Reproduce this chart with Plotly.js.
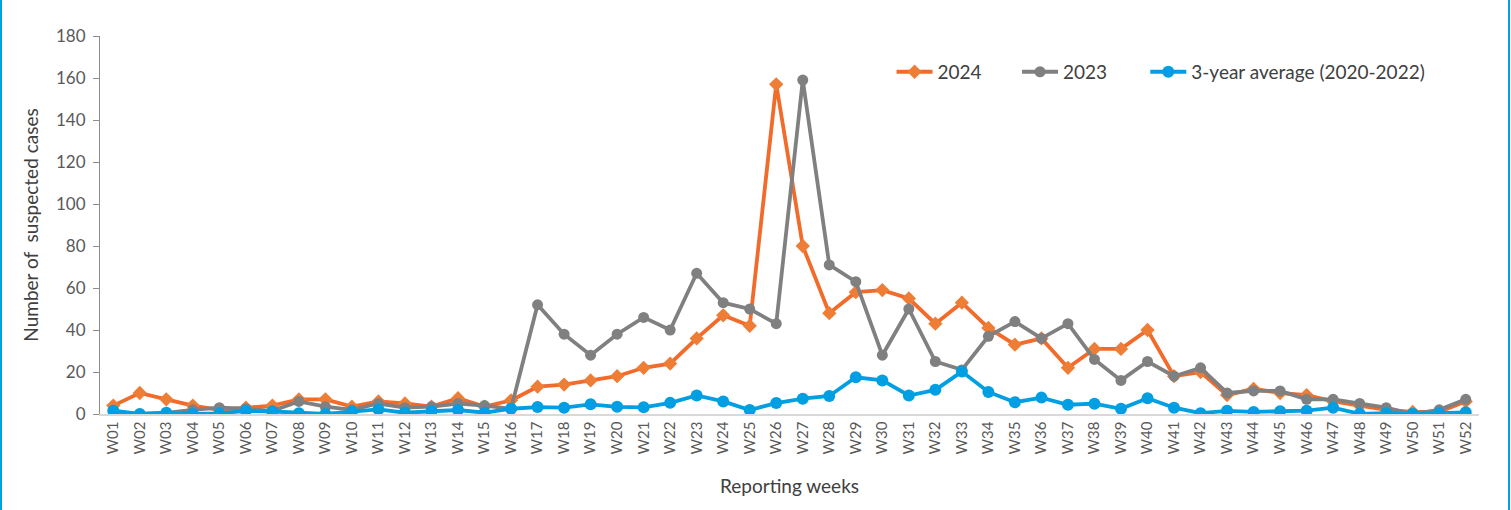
<!DOCTYPE html>
<html>
<head>
<meta charset="utf-8">
<script src="https://cdn.plot.ly/plotly-3.0.1.min.js"></script>
<style>
  html, body { margin: 0; padding: 0; background: #fff; }
  #wrap { position: relative; width: 1511px; height: 510px; overflow: hidden; }
  #chart { width: 1511px; height: 510px; }
  .bl { position: absolute; top: 0; width: 2px; height: 510px; background: #00A0E3; }
</style>
</head>
<body>
<div id="wrap">
  <div id="chart"></div>
  <div class="bl" style="left:0"></div>
  <div class="bl" style="left:1508px"></div>
</div>
<script>
const weeks = ["W01","W02","W03","W04","W05","W06","W07","W08","W09","W10","W11","W12","W13","W14","W15","W16","W17","W18","W19","W20","W21","W22","W23","W24","W25","W26","W27","W28","W29","W30","W31","W32","W33","W34","W35","W36","W37","W38","W39","W40","W41","W42","W43","W44","W45","W46","W47","W48","W49","W50","W51","W52"];

const cases2024 = [4,10,7,4,2,3,4,7,7,3.5,6,5,3.5,7.5,3.5,6.5,13,14,16,18,22,24,36,47,42,157,80,48,58,59,55,43,53,41,33,36,22,31,31,40,18,20,9,12,10,9,6,4,2,1,1,6];

const cases2023 = [0,0,0.5,2,3,2.5,1.5,6,3.5,2,5,3,3.5,5,4,2.5,52,38,28,38,46,40,67,53,50,43,159,71,63,28,50,25,21,37,44,36,43,26,16,25,18,22,10,11,11,7,7,5,3,0,2,7];

const avg3y = [1.6,0,0.6,0,0.3,1.5,1.2,0.4,0,1.1,2.2,0.6,1.4,1.9,0.6,2.5,3.3,3,4.6,3.4,3.2,5.3,8.8,6,1.9,5.2,7.3,8.6,17.5,16,8.8,11.5,20.2,10.5,5.6,7.8,4.4,4.9,2.5,7.5,3,0.4,1.5,1,1.3,1.6,3,0.1,0.4,0.1,0.4,0.8];

const traces = [
  {
    x: weeks, y: cases2024, name: "2024", type: "scatter", mode: "lines+markers", legend: "legend",
    line: {color: "#F26B2A", width: 3.8},
    marker: {symbol: "diamond", size: 11, color: "#EE7D35", line: {width: 0}}
  },
  {
    x: weeks, y: cases2023, name: "2023", type: "scatter", mode: "lines+markers", legend: "legend2",
    line: {color: "#808080", width: 3.8},
    marker: {symbol: "circle", size: 11, color: "#808080"}
  },
  {
    x: weeks, y: avg3y, name: "3-year average (2020-2022)", type: "scatter", mode: "lines+markers", legend: "legend3",
    line: {color: "#009FE3", width: 3.8},
    marker: {symbol: "circle", size: 12, color: "#009FE3"}
  }
];

function leg(x) {
  return {
    orientation: "h", x: x, xanchor: "left", y: 0.905, yanchor: "middle",
    font: {size: 19, color: "#404040"}, bgcolor: "rgba(0,0,0,0)", itemwidth: 36
  };
}

const layout = {
  width: 1511, height: 510,
  margin: {l: 100, r: 32, t: 36, b: 96},
  paper_bgcolor: "#ffffff", plot_bgcolor: "#ffffff",
  font: {family: "Lato, 'Noto Sans', sans-serif", color: "#595959", size: 14},
  showlegend: true,
  legend: leg(0.574),
  legend2: leg(0.665),
  legend3: leg(0.758),
  xaxis: {
    type: "category", range: [-0.5, 51.5], tickangle: -90,
    showline: true, linecolor: "#D9D9D9", linewidth: 1.5,
    ticks: "", showgrid: false, zeroline: false,
    tickfont: {size: 15, color: "#595959"},
    title: {text: "Reporting weeks", font: {size: 19, color: "#404040"}, standoff: 26}
  },
  yaxis: {
    range: [0, 180], dtick: 20, tick0: 0,
    showline: true, linecolor: "#8C8C8C", linewidth: 1,
    ticks: "outside", ticklen: 6, tickcolor: "#8C8C8C", ticklabelstandoff: 4,
    showgrid: false, zeroline: false,
    tickfont: {size: 17, color: "#595959"},
    title: {text: "Number of  suspected cases", font: {size: 19, color: "#404040"}, standoff: 12}
  }
};

Plotly.newPlot("chart", traces, layout, {displayModeBar: false, staticPlot: true});
</script>
</body>
</html>
